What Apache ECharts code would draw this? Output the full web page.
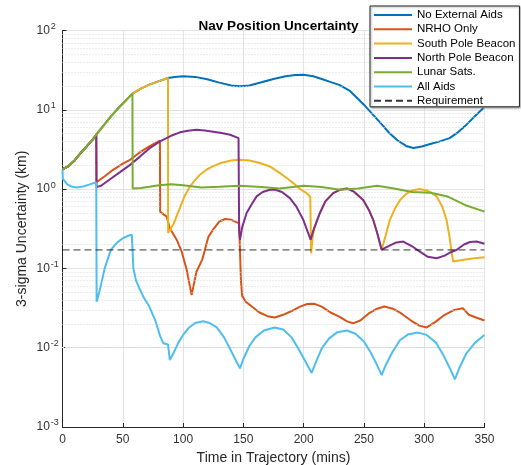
<!DOCTYPE html>
<html>
<head>
<meta charset="utf-8">
<script src="https://cdn.jsdelivr.net/npm/echarts@6/dist/echarts.min.js"></script>
<style>
  html, body { margin: 0; padding: 0; background: #fff; }
  #chart { width: 521px; height: 465px; }
</style>
</head>
<body>
<div id="chart"></div>
<script>
// values: [time (mins), 3-sigma uncertainty (km)]
var rampToSats = [[0, 1.78], [5, 1.95], [10, 2.3], [15, 2.85], [20, 3.45], [25, 4.2], [28, 4.85]];
var rampSats = [[35, 6.6], [40, 8.2], [45, 10], [50, 12], [58, 16]];
var rampSouth = [[65, 18.5], [72, 20.8], [80, 23], [87.5, 25.2]];

var noAidsTail = [[88, 25.4], [93, 26], [100, 26.5], [110, 26], [120, 24.3], [130, 22], [140, 20.3],
    [147, 19.8], [155, 20.3], [165, 22.2], [175, 24.5], [185, 26.5], [193, 27.5], [200, 27.7],
    [208, 26.5], [215, 24.5], [222, 22.5], [230, 20.5], [238, 17.5], [245, 13.8], [250, 11.6],
    [258, 8.5], [265, 6.5], [271, 5.1], [278, 4.1], [285, 3.5], [291, 3.3], [298, 3.45],
    [305, 3.7], [313, 4.0], [321, 4.4], [328, 5.2], [335, 6.5], [342, 8.3], [349, 10.5]];

var nrhoTail = [[28.2, 1.22], [35, 1.45], [42, 1.75], [50, 2.1], [56, 2.34], [64, 2.9], [72, 3.45],
    [80.8, 4.1], [81, 0.52], [83, 0.49], [86.4, 0.45], [89, 0.32], [94.7, 0.23], [99, 0.16],
    [103, 0.096], [107.1, 0.046], [111, 0.09], [116, 0.13], [121, 0.25], [125, 0.31], [130, 0.39],
    [135, 0.42], [140, 0.41], [146.5, 0.37], [147.3, 0.35], [148, 0.07], [149, 0.045], [152, 0.038],
    [157, 0.033], [163, 0.028], [170, 0.025], [176, 0.024], [183, 0.026], [190, 0.029], [197, 0.033],
    [203, 0.0355], [209, 0.0357], [215, 0.033], [222, 0.028], [230, 0.0245], [236, 0.0215],
    [241, 0.0203], [247, 0.022], [254, 0.027], [261, 0.031], [267, 0.033], [274, 0.031],
    [281, 0.027], [289, 0.022], [296, 0.019], [302, 0.018], [309, 0.021], [317, 0.026],
    [325, 0.03], [332, 0.0315], [337, 0.026], [343, 0.024], [350, 0.022]];

var southTail = [[87.6, 0.28], [89, 0.28], [92, 0.36], [95, 0.47], [97.4, 0.58], [101, 0.8],
    [105.7, 1.08], [110, 1.3], [114, 1.52], [120, 1.78], [125, 1.95], [132, 2.15], [140, 2.3],
    [147, 2.35], [155, 2.3], [163, 2.15], [172, 1.93], [180, 1.6], [186, 1.38], [191.4, 1.19],
    [197, 1.0], [202.5, 0.89], [205.5, 0.8], [206.2, 0.155], [207.5, 0.25], [209, 0.33],
    [213.5, 0.5], [218, 0.7], [224.5, 0.89], [230, 0.98], [236, 1.02], [242, 0.92], [249.4, 0.73],
    [254, 0.55], [257.7, 0.41], [261, 0.28], [264.7, 0.172], [268, 0.26], [271.5, 0.41],
    [276, 0.58], [280, 0.73], [285, 0.87], [290, 0.96], [296, 1.0], [302, 0.96], [306, 0.9],
    [310.3, 0.81], [315, 0.6], [318.5, 0.41], [321, 0.25], [322.5, 0.17], [324, 0.122],
    [330, 0.127], [340, 0.133], [350, 0.138]];

var northTail = [[28.2, 1.06], [32, 1.1], [40, 1.35], [48, 1.65], [56, 2.02], [64, 2.55], [72, 3.25],
    [80.8, 4.0], [90, 4.7], [97.4, 5.2], [104, 5.45], [111, 5.6], [118, 5.5], [125, 5.3],
    [132, 5.1], [139, 4.85], [146, 4.4], [146.5, 0.3], [147.2, 0.23], [149, 0.33], [152.7, 0.5],
    [157, 0.65], [161, 0.81], [166, 0.92], [172, 0.98], [176, 0.99], [182, 0.92], [188.6, 0.77],
    [194, 0.6], [199.7, 0.41], [203, 0.3], [205.8, 0.23], [208, 0.3], [213.5, 0.5], [218, 0.7],
    [224.5, 0.89], [230, 0.98], [236, 1.02], [242, 0.92], [249.4, 0.73], [254, 0.55],
    [257.7, 0.41], [261, 0.28], [264.7, 0.172], [270, 0.19], [276, 0.21], [282.6, 0.218],
    [290, 0.19], [297, 0.16], [303, 0.14], [310.3, 0.134], [317, 0.145], [322, 0.16],
    [327, 0.172], [333, 0.2], [338, 0.215], [343.4, 0.218], [350, 0.205]];

var satsTail = [[58.2, 1.02], [65, 1.03], [72, 1.07], [80, 1.12], [90, 1.15], [100, 1.12],
    [115, 1.05], [130, 1.07], [147, 1.1], [165, 1.06], [180, 1.02], [200, 1.1], [215, 1.06],
    [230, 0.98], [245, 1.02], [261, 1.1], [275, 1.02], [290, 0.92], [305, 0.9], [313, 0.85],
    [320, 0.8], [335, 0.62], [350, 0.52]];

var allAids = [[0, 1.75], [0.3, 1.35], [4, 1.15], [8, 1.07], [12, 1.05], [17, 1.08], [22, 1.14],
    [28, 1.22], [28.3, 0.038], [31, 0.054], [35, 0.1], [40, 0.17], [45, 0.21], [50, 0.24],
    [55, 0.26], [57.5, 0.265], [58, 0.26], [58.8, 0.1], [61, 0.07], [64, 0.055], [67, 0.044],
    [72, 0.033], [77, 0.022], [81, 0.014], [83.6, 0.0114], [87.5, 0.011], [89, 0.007],
    [92, 0.0085], [96, 0.0115], [100, 0.0145], [105, 0.018], [110, 0.0205], [116.7, 0.0215],
    [122, 0.0205], [128, 0.018], [134, 0.0135], [140, 0.009], [144, 0.0068], [147.2, 0.0055],
    [150, 0.0072], [155, 0.0105], [160, 0.0135], [167, 0.0165], [176, 0.018], [183, 0.017],
    [190, 0.0135], [196, 0.0095], [202, 0.0065], [206.6, 0.0048], [210, 0.0065], [215, 0.0098],
    [221, 0.013], [228, 0.0157], [236, 0.0165], [243, 0.015], [250, 0.012], [256, 0.0085],
    [261, 0.006], [264.7, 0.0045], [268, 0.006], [274, 0.009], [280, 0.0125], [287, 0.0148],
    [295, 0.0155], [302, 0.0145], [310, 0.0115], [316, 0.008], [321, 0.0056], [325.5, 0.004],
    [329, 0.0055], [335, 0.0085], [342, 0.0115], [350, 0.0145]];

var requirement = [[0, 0.171], [350, 0.171]];

var seriesNames = ['No External Aids', 'NRHO Only', 'South Pole Beacon', 'North Pole Beacon',
    'Lunar Sats.', 'All Aids', 'Requirement'];
var seriesColors = ['#0072BD', '#D95319', '#EDB120', '#7E2F8E', '#77AC30', '#4DBEEE', '#000000'];

var xTicks = [0, 50, 100, 150, 200, 250, 300, 350];
var yDecades = [-3, -2, -1, 0, 1, 2];

var curves = [
    rampToSats.concat(rampSats, rampSouth, noAidsTail),
    rampToSats.concat(nrhoTail),
    rampToSats.concat(rampSats, rampSouth, southTail),
    rampToSats.concat(northTail),
    rampToSats.concat(rampSats, satsTail),
    allAids,
    requirement
];

// minor grid (2..9 within each decade)
var minorLines = [];
for (var d = 0; d < yDecades.length - 1; ++d) {
    for (var k = 2; k <= 9; ++k) {
        minorLines.push({ yAxis: k * Math.pow(10, yDecades[d]) });
    }
}

var font = '"Liberation Sans", Arial, sans-serif';
var series = [{
    name: 'minorGrid',
    type: 'line',
    data: [],
    silent: true,
    markLine: {
        silent: true,
        symbol: 'none',
        label: { show: false },
        lineStyle: { color: '#d9d9d9', type: [1, 2], width: 1 },
        emphasis: { disabled: true },
        data: minorLines
    }
}];
for (var i = 0; i < curves.length; ++i) {
    var isReq = seriesNames[i] == 'Requirement';
    series.push({
        name: seriesNames[i],
        type: 'line',
        data: curves[i],
        symbol: 'none',
        smooth: false,
        z: 3 + i,
        lineStyle: {
            color: seriesColors[i],
            width: isReq ? 1 : 2,
            type: isReq ? [7, 4] : 'solid',
            opacity: isReq ? 0.8 : 1
        },
        itemStyle: { color: seriesColors[i] }
    });
}

var option = {
    animation: false,
    backgroundColor: '#fff',
    title: {
        text: 'Nav Position Uncertainty',
        left: 273.5,
        textAlign: 'center',
        top: 14,
        textStyle: { fontFamily: font, fontSize: 13.5, fontWeight: 'bold', color: '#000' }
    },
    legend: {
        data: seriesNames,
        orient: 'vertical',
        left: 370,
        top: 6,
        itemWidth: 38,
        itemHeight: 12,
        itemGap: 2.3,
        padding: [3, 4, 0, 3],
        backgroundColor: '#fff',
        borderColor: '#262626',
        borderWidth: 1,
        borderRadius: 0,
        shadowColor: 'rgba(0,0,0,0.35)',
        shadowBlur: 2,
        shadowOffsetX: 1,
        shadowOffsetY: 1,
        z: 20,
        selectedMode: false,
        itemStyle: { opacity: 0 },
        textStyle: { fontFamily: font, fontSize: 11.5, color: '#000', lineHeight: 12 }
    },
    grid: { left: 62.5, right: 36.5, top: 30.5, bottom: 38, containLabel: false, outerBoundsMode: 'none' },
    xAxis: {
        type: 'value',
        min: 0,
        max: 350,
        interval: 50,
        name: 'Time in Trajectory (mins)',
        nameLocation: 'middle',
        nameGap: 18,
        nameTextStyle: { fontFamily: font, fontSize: 14, color: '#262626' },
        axisLine: { lineStyle: { color: '#262626', width: 1 } },
        axisTick: { inside: true, length: 4, lineStyle: { color: '#262626' } },
        axisLabel: { fontFamily: font, fontSize: 12, color: '#333', margin: 7,
            customValues: xTicks },
        splitLine: { show: true, lineStyle: { color: '#e3e3e3', width: 1 } }
    },
    yAxis: {
        type: 'log',
        logBase: 10,
        min: Math.pow(10, yDecades[0]),
        max: Math.pow(10, yDecades[yDecades.length - 1]),
        name: '3-sigma Uncertainty (km)',
        nameLocation: 'middle',
        nameGap: 33,
        nameMoveOverlap: false,
        nameTextStyle: { fontFamily: font, fontSize: 14, color: '#262626' },
        axisLine: { show: true, lineStyle: { color: '#262626', width: 1 } },
        axisTick: { inside: true, length: 4, lineStyle: { color: '#262626' } },
        axisLabel: {
            margin: 26,
            align: 'left',
            formatter: function (v) {
                return '{b|10}{s|' + Math.round(Math.log10(v)) + '}';
            },
            rich: {
                b: { fontFamily: font, fontSize: 12, color: '#333' },
                s: { fontFamily: font, fontSize: 9, color: '#333', verticalAlign: 'bottom', padding: [0, 0, 8, 1] }
            }
        },
        splitLine: { show: true, lineStyle: { color: '#e3e3e3', width: 1 } }
    },
    series: series
};

echarts.init(document.getElementById('chart')).setOption(option);
</script>
</body>
</html>
